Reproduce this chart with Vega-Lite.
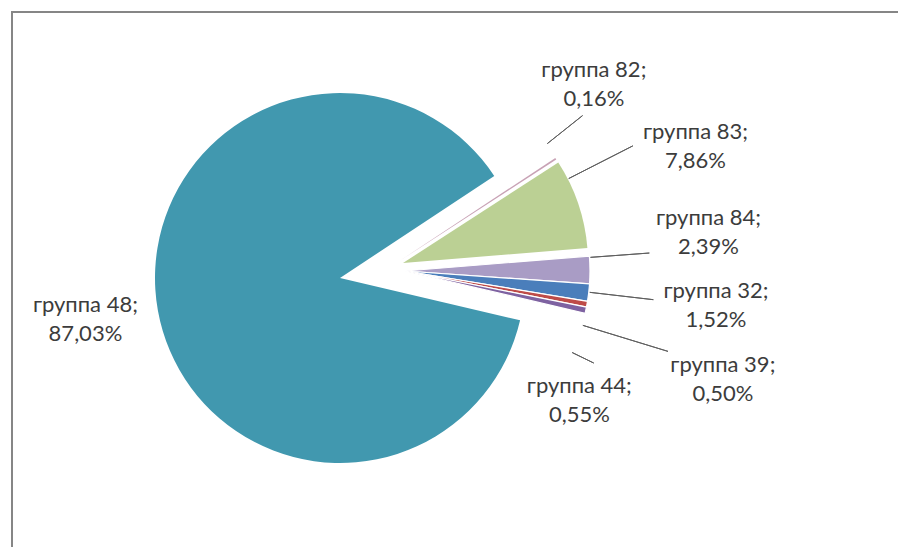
{
  "$schema": "https://vega.github.io/schema/vega-lite/v6.json",
  "width": 1000,
  "height": 560,
  "autosize": "none",
  "padding": {"left": 12, "top": 12, "right": -114, "bottom": -25},
  "background": "#ffffff",
  "config": {"view": {"stroke": null}},
  "data": {"values": [
    {"group": "группа 82", "pct": 0.16, "ord": 1},
    {"group": "группа 83", "pct": 7.86, "ord": 2},
    {"group": "группа 84", "pct": 2.39, "ord": 3},
    {"group": "группа 32", "pct": 1.52, "ord": 4},
    {"group": "группа 39", "pct": 0.50, "ord": 5},
    {"group": "группа 44", "pct": 0.55, "ord": 6},
    {"group": "группа 48", "pct": 87.03, "ord": 7}
  ]},
  "transform": [
    {"stack": "pct", "groupby": [], "sort": [{"field": "ord", "order": "ascending"}], "offset": "normalize", "as": ["s0", "s1"]},
    {"calculate": "(datum.s0 + datum.s1) / 2", "as": "mid"},
    {"calculate": "datum.group + ';\\n' + replace(format(datum.pct, '.2f'), '.', ',') + '%'", "as": "label"}
  ],
  "layer": [
    {
      "transform": [{"filter": "datum.ord == 7"}],
      "mark": {"type": "rect", "fill": null, "fillOpacity": 0, "stroke": "#868686", "strokeWidth": 2},
      "encoding": {"x": {"value": 0}, "x2": {"value": "width"}, "y": {"value": 0}, "y2": {"value": "height"}}
    },
    {
      "transform": [{"filter": "datum.ord == 7"}],
      "mark": {"type": "arc", "outerRadius": 185, "xOffset": -172, "yOffset": -14},
      "encoding": {
        "theta": {"field": "s0", "type": "quantitative", "stack": null, "scale": {"domain": [0, 1], "range": [0.9861, 7.2693]}},
        "theta2": {"field": "s1"},
        "color": {"field": "group", "type": "nominal", "legend": null,
          "scale": {"domain": ["группа 82", "группа 83", "группа 84", "группа 32", "группа 39", "группа 44", "группа 48"],
                    "range": ["#C8A2B5", "#BBD094", "#A99CC5", "#4A7EBB", "#BE4B48", "#7E62A1", "#4198AF"]}}
      }
    },
    {
      "transform": [{"filter": "datum.ord == 1"}],
      "mark": {"type": "arc", "outerRadius": 185, "xOffset": -111, "yOffset": -32},
      "encoding": {
        "theta": {"field": "s0", "type": "quantitative", "stack": null, "scale": {"domain": [0, 1], "range": [0.9861, 7.2693]}},
        "theta2": {"field": "s1"},
        "color": {"field": "group", "type": "nominal", "legend": null}
      }
    },
    {
      "transform": [{"filter": "datum.ord == 2"}],
      "mark": {"type": "arc", "outerRadius": 185, "xOffset": -109, "yOffset": -29},
      "encoding": {
        "theta": {"field": "s0", "type": "quantitative", "stack": null, "scale": {"domain": [0, 1], "range": [0.9861, 7.2693]}},
        "theta2": {"field": "s1"},
        "color": {"field": "group", "type": "nominal", "legend": null}
      }
    },
    {
      "transform": [{"filter": "datum.ord >= 3 && datum.ord <= 6"}],
      "mark": {"type": "arc", "outerRadius": 185, "xOffset": -107, "yOffset": -21, "stroke": "#ffffff", "strokeWidth": 1.2},
      "encoding": {
        "theta": {"field": "s0", "type": "quantitative", "stack": null, "scale": {"domain": [0, 1], "range": [0.9861, 7.2693]}},
        "theta2": {"field": "s1"},
        "color": {"field": "group", "type": "nominal", "legend": null}
      }
    },
    {
      "transform": [{"filter": "datum.ord == 1"}],
      "mark": {"type": "arc", "radius": 232, "radius2": 187, "thetaOffset": -0.0923, "theta2Offset": -0.0923, "xOffset": -111, "yOffset": -32, "fillOpacity": 0, "stroke": "#5f5f5f", "strokeWidth": 1},
      "encoding": {"theta": {"field": "mid", "type": "quantitative", "stack": null}, "theta2": {"field": "mid"}}
    },
    {
      "transform": [{"filter": "datum.ord == 2"}],
      "mark": {"type": "arc", "radius": 258, "radius2": 186, "thetaOffset": -0.1436, "theta2Offset": -0.1436, "xOffset": -109, "yOffset": -29, "fillOpacity": 0, "stroke": "#5f5f5f", "strokeWidth": 1},
      "encoding": {"theta": {"field": "mid", "type": "quantitative", "stack": null}, "theta2": {"field": "mid"}}
    },
    {
      "transform": [{"filter": "datum.ord == 3"}],
      "mark": {"type": "arc", "radius": 245, "radius2": 186, "thetaOffset": -0.0677, "theta2Offset": -0.0677, "xOffset": -107, "yOffset": -21, "fillOpacity": 0, "stroke": "#5f5f5f", "strokeWidth": 1},
      "encoding": {"theta": {"field": "mid", "type": "quantitative", "stack": null}, "theta2": {"field": "mid"}}
    },
    {
      "transform": [{"filter": "datum.ord == 4"}],
      "mark": {"type": "arc", "radius": 250, "radius2": 186, "thetaOffset": -0.0021, "theta2Offset": -0.0021, "xOffset": -107, "yOffset": -21, "fillOpacity": 0, "stroke": "#5f5f5f", "strokeWidth": 1},
      "encoding": {"theta": {"field": "mid", "type": "quantitative", "stack": null}, "theta2": {"field": "mid"}}
    },
    {
      "transform": [{"filter": "datum.ord == 5"}],
      "mark": {"type": "arc", "radius": 275, "radius2": 186, "thetaOffset": 0.1161, "theta2Offset": 0.1161, "xOffset": -107, "yOffset": -21, "fillOpacity": 0, "stroke": "#5f5f5f", "strokeWidth": 1},
      "encoding": {"theta": {"field": "mid", "type": "quantitative", "stack": null}, "theta2": {"field": "mid"}}
    },
    {
      "transform": [{"filter": "datum.ord == 6"}],
      "mark": {"type": "arc", "radius": 210, "radius2": 186, "thetaOffset": 0.2402, "theta2Offset": 0.2402, "xOffset": -107, "yOffset": -21, "fillOpacity": 0, "stroke": "#5f5f5f", "strokeWidth": 1},
      "encoding": {"theta": {"field": "mid", "type": "quantitative", "stack": null}, "theta2": {"field": "mid"}}
    },
    {
      "transform": [{"filter": "datum.ord == 1"}],
      "mark": {"type": "text", "radius": 261, "thetaOffset": -0.1597, "xOffset": -111, "yOffset": -32, "dy": -14.5, "font": "Lato", "fontSize": 22, "lineHeight": 29, "lineBreak": "\n", "align": "center", "baseline": "middle", "color": "#3c3c3c"},
      "encoding": {"theta": {"field": "mid", "type": "quantitative", "stack": null}, "text": {"field": "label"}}
    },
    {
      "transform": [{"filter": "datum.ord == 2"}],
      "mark": {"type": "text", "radius": 315, "thetaOffset": -0.0524, "xOffset": -109, "yOffset": -29, "dy": -14.5, "font": "Lato", "fontSize": 22, "lineHeight": 29, "lineBreak": "\n", "align": "center", "baseline": "middle", "color": "#3c3c3c"},
      "encoding": {"theta": {"field": "mid", "type": "quantitative", "stack": null}, "text": {"field": "label"}}
    },
    {
      "transform": [{"filter": "datum.ord == 3"}],
      "mark": {"type": "text", "radius": 306, "thetaOffset": -0.1218, "xOffset": -107, "yOffset": -21, "dy": -14.5, "font": "Lato", "fontSize": 22, "lineHeight": 29, "lineBreak": "\n", "align": "center", "baseline": "middle", "color": "#3c3c3c"},
      "encoding": {"theta": {"field": "mid", "type": "quantitative", "stack": null}, "text": {"field": "label"}}
    },
    {
      "transform": [{"filter": "datum.ord == 4"}],
      "mark": {"type": "text", "radius": 313, "thetaOffset": -0.0052, "xOffset": -107, "yOffset": -21, "dy": -14.5, "font": "Lato", "fontSize": 22, "lineHeight": 29, "lineBreak": "\n", "align": "center", "baseline": "middle", "color": "#3c3c3c"},
      "encoding": {"theta": {"field": "mid", "type": "quantitative", "stack": null}, "text": {"field": "label"}}
    },
    {
      "transform": [{"filter": "datum.ord == 5"}],
      "mark": {"type": "text", "radius": 336, "thetaOffset": 0.1496, "xOffset": -107, "yOffset": -21, "dy": -14.5, "font": "Lato", "fontSize": 22, "lineHeight": 29, "lineBreak": "\n", "align": "center", "baseline": "middle", "color": "#3c3c3c"},
      "encoding": {"theta": {"field": "mid", "type": "quantitative", "stack": null}, "text": {"field": "label"}}
    },
    {
      "transform": [{"filter": "datum.ord == 6"}],
      "mark": {"type": "text", "radius": 217, "thetaOffset": 0.4243, "xOffset": -107, "yOffset": -21, "dy": -14.5, "font": "Lato", "fontSize": 22, "lineHeight": 29, "lineBreak": "\n", "align": "center", "baseline": "middle", "color": "#3c3c3c"},
      "encoding": {"theta": {"field": "mid", "type": "quantitative", "stack": null}, "text": {"field": "label"}}
    },
    {
      "transform": [{"filter": "datum.ord == 7"}],
      "mark": {"type": "text", "radius": 258, "thetaOffset": 0.0136, "xOffset": -172, "yOffset": -14, "dy": -14.5, "font": "Lato", "fontSize": 22, "lineHeight": 29, "lineBreak": "\n", "align": "center", "baseline": "middle", "color": "#3c3c3c"},
      "encoding": {"theta": {"field": "mid", "type": "quantitative", "stack": null}, "text": {"field": "label"}}
    }
  ]
}
